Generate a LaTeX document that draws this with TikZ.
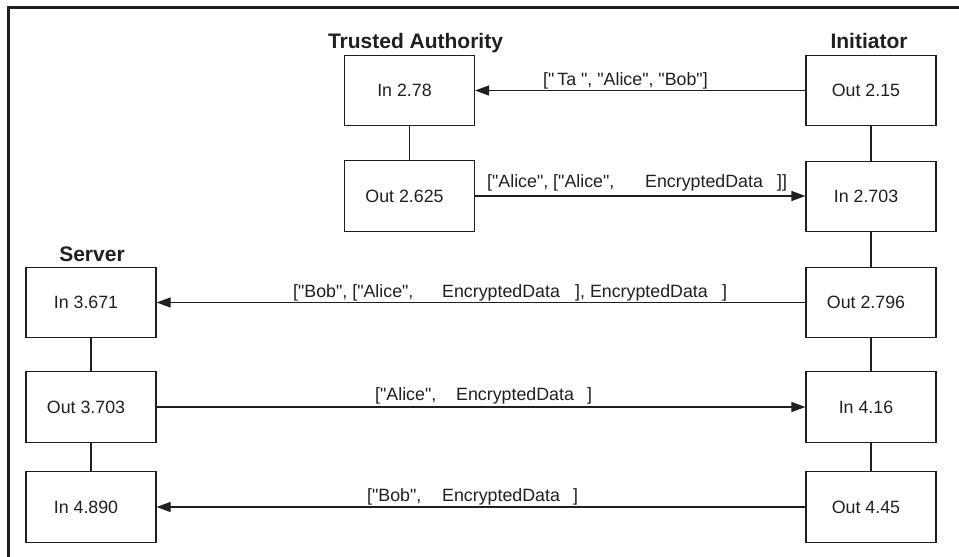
\documentclass[tikz,border=0pt]{standalone}
\usepackage{fontspec}
\setmainfont{Liberation Sans}[Ligatures=TeXOff]
\usetikzlibrary{arrows.meta}
\definecolor{ink}{gray}{0.12}
\begin{document}
\begin{tikzpicture}[x=1pt,y=-1pt,
  box/.style={draw=ink,line width=1.2pt,minimum width=130pt,minimum height=70.5pt,inner sep=0pt},
  boxtext/.style={font=\fontsize{17.8}{20}\selectfont,text=ink,inner sep=0pt},
  head/.style={font=\bfseries\fontsize{21}{24}\selectfont,text=ink,anchor=base,inner sep=0pt},
  msg/.style={font=\fontsize{17.8}{20}\selectfont,text=ink,anchor=base west,inner sep=0pt},
  arr/.style={draw=ink,line width=1.2pt,-{Triangle[length=14pt,width=10pt]}},
  link/.style={draw=ink,line width=2.6pt},
  thinlink/.style={draw=ink,line width=1.2pt}]
\useasboundingbox (0,0) rectangle (959,557);
% frame
\draw[ink,line width=3pt] (8,557) -- (8,7.5) -- (959,7.5);
% headers
\node[head] (hta) at (415.5,48) {Trusted Authority};
\node[head] (hin) at (869,48) {Initiator};
\node[head] (hsv) at (92,261) {Server};
% Trusted Authority
\node[box,label={[boxtext,xshift=-5pt]center:In 2.78}] (t1) at (409.5,90.5) {};
\node[box,label={[boxtext,xshift=-5pt]center:Out 2.625}] (t2) at (409.5,196) {};
% Initiator
\node[box,label={[boxtext,xshift=-5pt]center:Out 2.15}] (i1) at (871,90.5) {};
\node[box,label={[boxtext,xshift=-5pt]center:In 2.703}] (i2) at (871,196.5) {};
\node[box,label={[boxtext,xshift=-5pt]center:Out 2.796}] (i3) at (871,302.5) {};
\node[box,label={[boxtext,xshift=-5pt]center:In 4.16}] (i4) at (871,407) {};
\node[box,label={[boxtext,xshift=-5pt]center:Out 4.45}] (i5) at (871,507) {};
% Server
\node[box,label={[boxtext,xshift=-5pt]center:In 3.671}] (s1) at (91,302.5) {};
\node[box,label={[boxtext,xshift=-5pt]center:Out 3.703}] (s2) at (91,407) {};
\node[box,label={[boxtext,xshift=-5pt]center:In 4.890}] (s3) at (91,507) {};
% lifelines
\draw[thinlink] (t1) -- (t2);
\draw[link] (i1) -- (i2);
\draw[link] (i2) -- (i3);
\draw[link] (i3) -- (i4);
\draw[link] (i4) -- (i5);
\draw[link] (s1) -- (s2);
\draw[link] (s2) -- (s3);
% messages
\draw[arr] (i1.west) -- (t1.east);
\draw[arr] (t2.east) -- (i2.west |- t2.east);
\draw[arr] (i3.west) -- (s1.east |- i3.west);
\draw[arr] (s2.east) -- (i4.west);
\draw[arr] (i5.west) -- (s3.east);
% message labels
\node[msg] (m1) at (543,85) {["\,Ta\ ", "Alice", "Bob"]};
\node[msg] (m2) at (487,187) {\makebox[158pt][l]{["Alice", ["Alice",}\makebox[132pt][l]{EncryptedData}]]};
\node[msg] (m3) at (293,297) {\makebox[149pt][l]{["Bob", ["Alice",}\makebox[133pt][l]{EncryptedData}\makebox[147pt][l]{], EncryptedData}]};
\node[msg] (m4) at (375,400) {\makebox[81pt][l]{["Alice",}\makebox[131pt][l]{EncryptedData}]};
\node[msg] (m5) at (367,501) {\makebox[75pt][l]{["Bob",}\makebox[131pt][l]{EncryptedData}]};
\end{tikzpicture}
\end{document}
